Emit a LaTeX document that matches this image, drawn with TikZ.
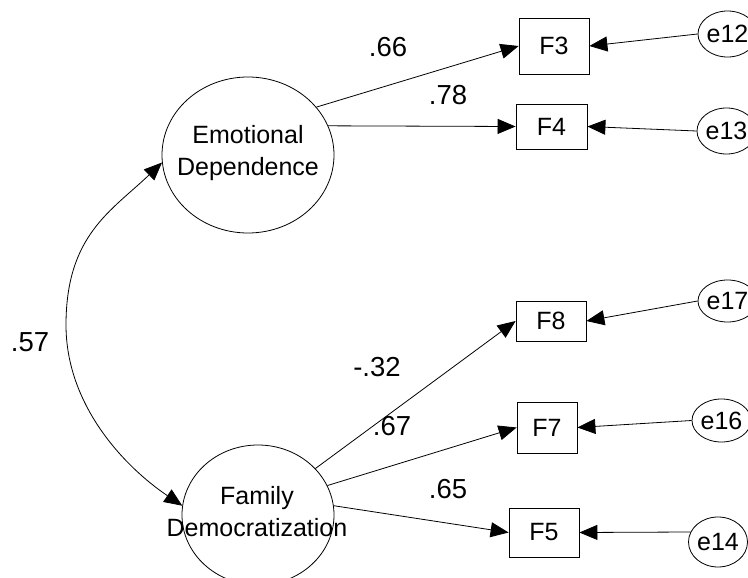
\documentclass[tikz,border=0pt]{standalone}
\usepackage{fontspec}
\setmainfont{Liberation Sans}
\usetikzlibrary{arrows.meta,shapes.geometric}
\begin{document}
\begin{tikzpicture}[x=1pt,y=-1pt,
  txt/.style={font=\fontsize{25}{32}\selectfont, inner sep=0pt, align=center},
  coef/.style={font=\fontsize{27.5}{32}\selectfont, inner sep=0pt},
  latent/.style={ellipse, draw, line width=0.8pt, inner sep=0pt},
  obs/.style={rectangle, draw, line width=0.8pt, inner sep=0pt, font=\fontsize{25}{32}\selectfont},
  err/.style={ellipse, draw, line width=0.8pt, inner sep=0pt, font=\fontsize{25}{32}\selectfont},
  tip/.tip={Triangle[length=18pt,width=15pt]},
  arr/.style={-tip, line width=0.8pt},
  dbl/.style={tip-tip, line width=0.8pt}
]
\useasboundingbox (0,0) rectangle (748,578);

% latent variables
\node[latent, minimum width=172pt, minimum height=156pt] (ED) at (248,155) {};
\node[txt] (EDt) at (248,153) {Emotional\\Dependence};
\node[latent, minimum width=152pt, minimum height=140pt] (FD) at (258,515) {};
\node[txt] (FDt) at (257,512) {Family\\Democratization};

% observed variables
\node[obs, minimum width=70pt, minimum height=56pt] (F3) at (554,46) {F3};
\node[obs, minimum width=71pt, minimum height=45pt] (F4) at (551.5,126.5) {F4};
\node[obs, minimum width=70pt, minimum height=40pt] (F8) at (551,321) {F8};
\node[obs, minimum width=60pt, minimum height=51pt] (F7) at (547,427.5) {F7};
\node[obs, minimum width=70pt, minimum height=49pt] (F5) at (544,532.5) {F5};

% error terms
\node[err, minimum width=51pt, minimum height=46pt] (e12) at (727.5,34) {e12};
\node[err, minimum width=51pt, minimum height=46pt] (e13) at (726.5,131) {e13};
\node[err, minimum width=51pt, minimum height=42pt] (e17) at (727.5,301) {e17};
\node[err, minimum width=51pt, minimum height=43pt] (e16) at (721.5,420.5) {e16};
\node[err, minimum width=52pt, minimum height=50pt] (e14) at (718,542) {e14};

% paths
\draw[arr] (ED.35) -- (F3.west);
\draw[arr] (ED.20) -- (F4.west);
\draw[arr] (FD.39) -- (F8.west);
\draw[arr] (FD.23) -- (F7.west);
\draw[arr] (FD.7) -- (F5.west);

\draw[arr] (e12.west) -- (F3.east);
\draw[arr] (e13.west) -- (F4.east);
\draw[arr] (e17.west) -- (F8.east);
\draw[arr] (e16.west) -- (F7.east);
\draw[arr] (e14.160) -- (F5.east);

% covariance
\coordinate (covL) at (66,325);
\draw[dbl] (ED.185) .. controls +(-50.4,48.3) and +(0,-90) .. (covL)
                    .. controls +(0,80) and +(-58.1,-39.2) .. (FD.173);

% coefficients
\node[coef] (l66) at (388,47) {.66};
\node[coef] (l78) at (448,95) {.78};
\node[coef] (l57) at (30,342) {.57};
\node[coef] (l32) at (377,367) {-.32};
\node[coef] (l67) at (392,426) {.67};
\node[coef] (l65) at (448,489) {.65};
\end{tikzpicture}
\end{document}
